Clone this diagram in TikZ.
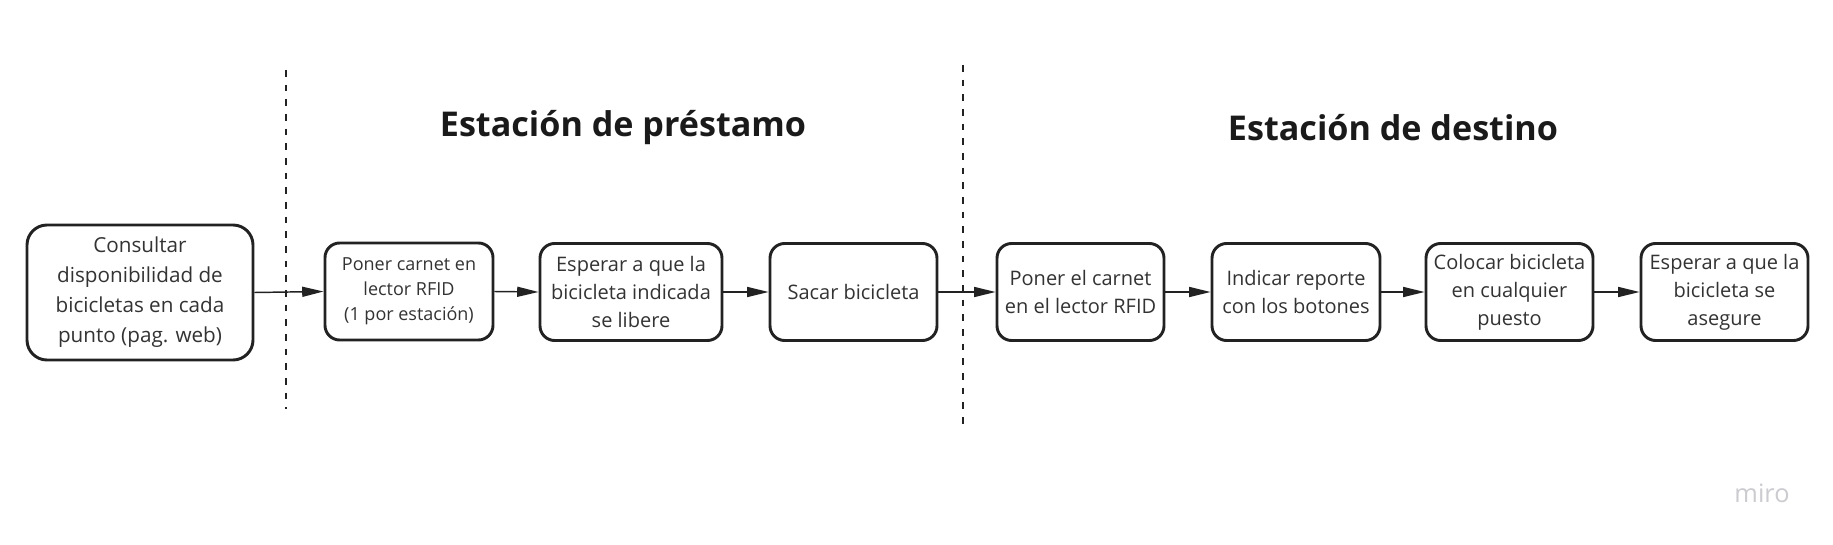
\documentclass[tikz,border=0pt]{standalone}
\usepackage{fontspec}
\setmainfont{Open Sans}
\usetikzlibrary{arrows.meta}
\definecolor{boxline}{HTML}{222222}
\definecolor{txt}{HTML}{333333}
\definecolor{ttl}{HTML}{1A1A1A}
\definecolor{miro}{HTML}{CBCBD0}
\tikzset{
  stepbox/.style={draw=boxline, line width=2.2pt, rounded corners=11pt, fill=white,
    align=center, text=txt, inner sep=0pt, minimum height=72.75pt,
    font=\fontsize{15}{21}\selectfont},
  flow/.style={draw=boxline, line width=1.1pt, -{Stealth[length=16pt,width=7.5pt,inset=0pt]}},
  divider/.style={draw=boxline, line width=1.1pt, dash pattern=on 5pt off 6pt},
  title/.style={font=\fontsize{25.6}{30}\selectfont\bfseries, text=ttl}
}
\begin{document}
\begin{tikzpicture}[x=0.75pt,y=-0.75pt]
\useasboundingbox[fill=white] (0,0) rectangle (1833,545);
% dividers
\coordinate (d1t) at (286,70);
\coordinate (d1b) at (286,409);
\coordinate (d2t) at (963,65);
\coordinate (d2b) at (963,427);
\draw[divider] (d1t) -- (d1b);
\draw[divider] (d2t) -- (d2b);
% titles
\node[title] (t1) at (623,128) {Estación de préstamo};
\node[title] (t2) at (1393,128) {Estación de destino};
% boxes
\node[stepbox, minimum width=169.5pt, minimum height=101.25pt, rounded corners=15pt,
  font=\fontsize{15.5}{22.5}\selectfont] (b1) at (140,292.5)
  {Consultar\\disponibilidad de\\bicicletas en cada\\punto (pag. web)};
\node[stepbox, minimum width=126pt, font=\fontsize{13.5}{18.75}\selectfont] (b2) at (409,291.5)
  {Poner carnet en\\lector RFID\\(1 por estación)};
\node[stepbox, minimum width=136.5pt] (b3) at (631,292)
  {Esperar a que la\\bicicleta indicada\\se libere};
\node[stepbox, minimum width=125.25pt] (b4) at (853.5,292)
  {Sacar bicicleta};
\node[stepbox, minimum width=125.25pt] (b5) at (1080.5,292)
  {Poner el carnet\\en el lector RFID};
\node[stepbox, minimum width=126pt] (b6) at (1296,292)
  {Indicar reporte\\con los botones};
\node[stepbox, minimum width=125.25pt] (b7) at (1509.5,292)
  {Colocar bicicleta\\en cualquier\\puesto};
\node[stepbox, minimum width=125.25pt] (b8) at (1724.5,292)
  {Esperar a que la\\bicicleta se\\asegure};
% connectors
\draw[flow] (b1.east) -- (b2.west);
\draw[flow] (b2.east) -- (b3.west);
\draw[flow] (b3.east) -- (b4.west);
\draw[flow] (b4.east) -- (b5.west);
\draw[flow] (b5.east) -- (b6.west);
\draw[flow] (b6.east) -- (b7.west);
\draw[flow] (b7.east) -- (b8.west);
% watermark
\node[text=miro, font=\fontsize{19}{22}\selectfont] (wm) at (1762,493) {miro};
\end{tikzpicture}
\end{document}
